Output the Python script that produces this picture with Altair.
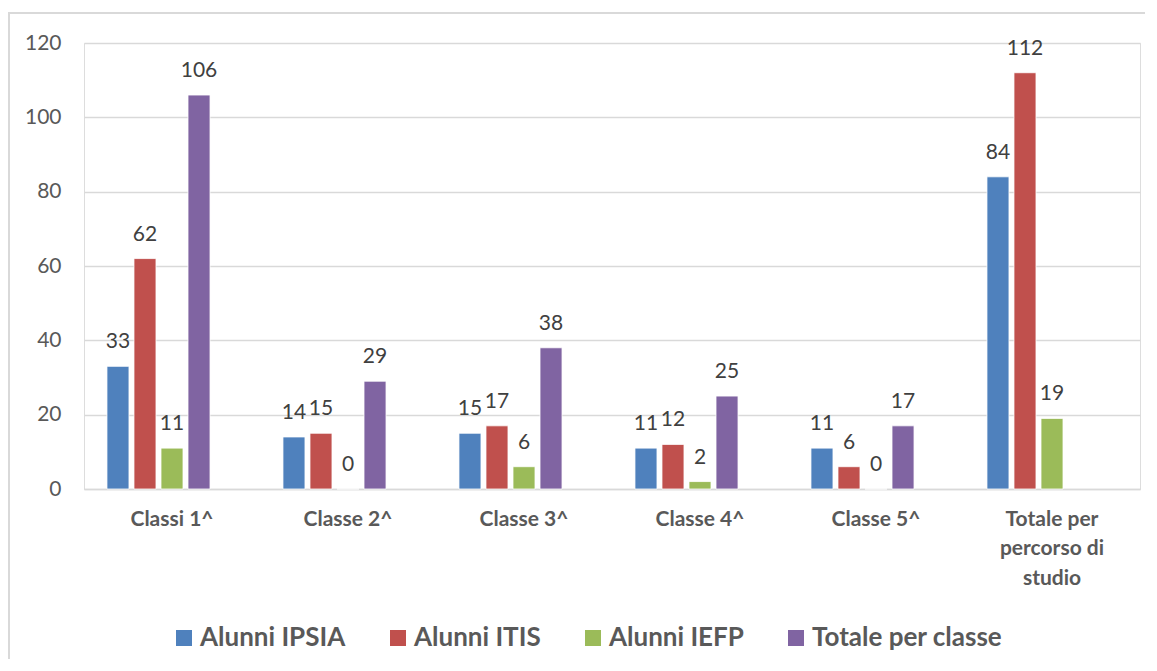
import altair as alt
import pandas as pd

categories = ["Classi 1^", "Classe 2^", "Classe 3^", "Classe 4^", "Classe 5^",
              "Totale per percorso di studio"]
series = ["Alunni IPSIA", "Alunni ITIS", "Alunni IEFP", "Totale per classe"]
ipsia = [33, 14, 15, 11, 11, 84]
itis = [62, 15, 17, 12, 6, 112]
iefp = [11, 0, 6, 2, 0, 19]
totale = [106, 29, 38, 25, 17, None]
colors = ["#4F81BD", "#C0504D", "#9BBB59", "#8064A2"]
y_ticks = [0, 20, 40, 60, 80, 100, 120]
last_label_lines = ["Totale per", "percorso di", "studio"]

rows = []
for s, vals in zip(series, [ipsia, itis, iefp, totale]):
    for c, v in zip(categories, vals):
        if v is not None:
            rows.append({"cat": c, "serie": s, "val": v})
df = pd.DataFrame(rows)

FONT = "Lato"
W, H = 1056, 446

label_expr = ("datum.value == '" + categories[-1] + "' ? ["
              + ", ".join("'" + t + "'" for t in last_label_lines)
              + "] : datum.label")

x_enc = alt.X("cat:N", sort=categories, title=None,
              scale=alt.Scale(paddingInner=0.261, paddingOuter=0.1305),
              axis=alt.Axis(labelAngle=0, ticks=False, domainColor="#d9d9d9",
                            domainWidth=1.3, labelFont=FONT, labelFontSize=21,
                            labelFontWeight="bold", labelColor="#595959",
                            labelPadding=19, labelLineHeight=29.5,
                            labelBaseline="top", labelExpr=label_expr))
xoff_enc = alt.XOffset("serie:N",
                       scale=alt.Scale(domain=series + ["_"], paddingInner=0.185,
                                       paddingOuter=0))
y_enc = alt.Y("val:Q", title=None,
              scale=alt.Scale(domain=[0, 120], nice=False),
              axis=alt.Axis(values=y_ticks, ticks=False, domain=False,
                            gridColor="#d9d9d9", gridWidth=1.3,
                            labelFont=FONT, labelFontSize=21, labelColor="#595959",
                            labelPadding=23))

base = alt.Chart(df)

bars = base.mark_bar(stroke="white", strokeWidth=0.8).encode(
    x=x_enc, xOffset=xoff_enc, y=y_enc,
    color=alt.Color("serie:N", scale=alt.Scale(domain=series, range=colors),
                    legend=alt.Legend(title=None, orient="none", legendX=87,
                                      legendY=582, direction="horizontal",
                                      symbolType="square", symbolSize=256,
                                      symbolStrokeWidth=0, labelFont=FONT,
                                      labelFontSize=26, labelFontWeight="bold",
                                      labelColor="#595959", labelOffset=3,
                                      labelLimit=0, columnPadding=39)),
)

labels = base.mark_text(font=FONT, fontSize=21, color="#404040",
                        baseline="alphabetic", dy=-18).encode(
    x=x_enc, xOffset=xoff_enc, y=y_enc, text=alt.Text("val:Q"),
)

frame_df = pd.DataFrame({"k": [0]})
left_line = alt.Chart(frame_df).mark_rule(color="#d9d9d9", strokeWidth=2).encode(
    x=alt.value(-75), y=alt.value(-30), y2=alt.value(640))
top_line = alt.Chart(frame_df).mark_rule(color="#d9d9d9", strokeWidth=2).encode(
    x=alt.value(-76), x2=alt.value(W + 20), y=alt.value(-30))

chart = alt.layer(left_line, top_line, bars, labels).properties(
    width=W, height=H,
    autosize=alt.AutoSizeParams(type="none"),
    padding={"left": 76, "top": 35, "right": 5, "bottom": 170},
).configure_view(stroke=None).configure(font=FONT, background="white")

chart.save("out.html", embed_options={"renderer": "svg", "actions": False})
